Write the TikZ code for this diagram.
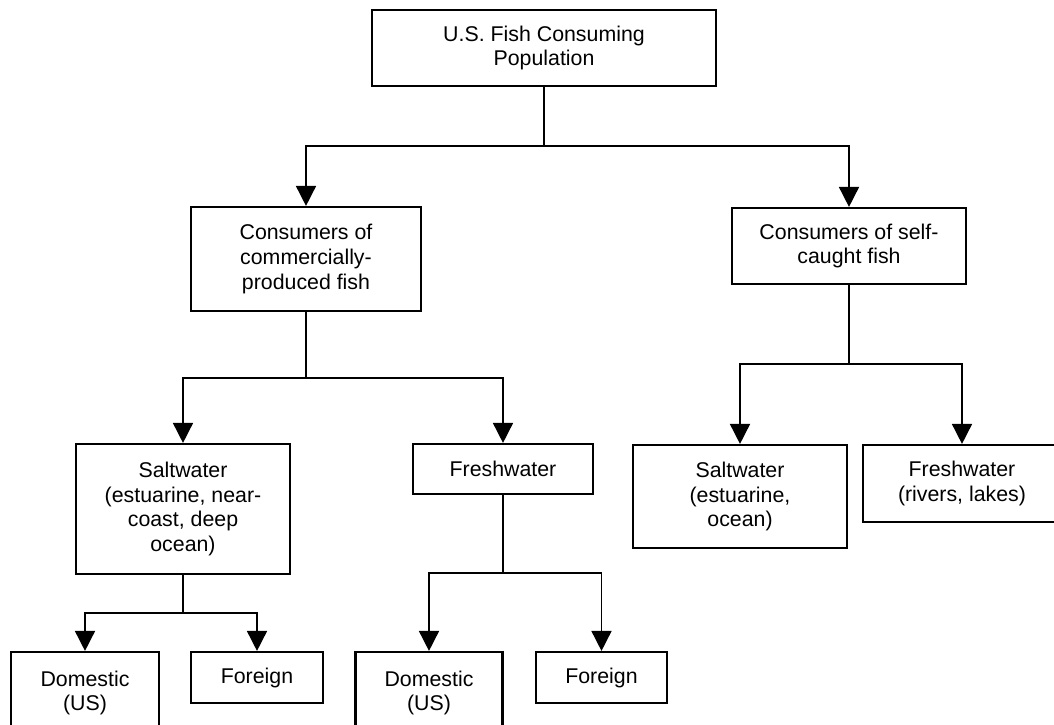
\documentclass[tikz,border=0pt]{standalone}
\usepackage{fontspec}
\setmainfont{Liberation Sans}
\usepackage{tikz}
\usetikzlibrary{arrows.meta}

\begin{document}
\begin{tikzpicture}[x=0.75pt, y=-0.75pt,
        box/.style={rectangle, draw, line width=1.6pt, align=center, inner sep=0pt,
            font=\fontsize{16}{18.5}\selectfont},
        link/.style={line width=1.2pt},
        arr/.style={link, -{Triangle[length=15pt, width=15pt]}}]
        \useasboundingbox (0, 0) rectangle (1054, 725);

        \node[box, minimum width=258pt, minimum height=57pt] (pop) at (544, 48) {U.S. Fish Consuming\\Population};
        \node[box, minimum width=172.5pt, minimum height=78pt] (comm) at (306, 259) {Consumers of\\commercially-\\produced fish};
        \node[box, minimum width=175.5pt, minimum height=57pt] (self) at (849, 246) {Consumers of self-\\caught fish};
        \node[box, minimum width=160.5pt, minimum height=97.5pt] (csalt) at (183, 509) {Saltwater\\(estuarine, near-\\coast, deep\\ocean)};
        \node[box, minimum width=135.4pt, minimum height=37.5pt] (cfresh) at (503, 469) {Freshwater};
        \node[box, minimum width=160.5pt, minimum height=77.25pt] (ssalt) at (740, 496.5) {Saltwater\\(estuarine,\\ocean)};
        \node[box, minimum width=148.5pt, minimum height=57.75pt] (sfresh) at (962, 483.5) {Freshwater\\(rivers, lakes)};
        \node[box, minimum width=110.6pt, minimum height=61.5pt] (sdom) at (85, 693) {Domestic\\(US)};
        \node[box, minimum width=98.6pt, minimum height=38.25pt] (sfor) at (257, 677.5) {Foreign};
        \node[box, minimum width=110.25pt, minimum height=61.5pt] (fdom) at (429, 693) {Domestic\\(US)};
        \node[box, minimum width=98.25pt, minimum height=38.25pt] (ffor) at (601.5, 677.5) {Foreign};

        \coordinate (j0) at (544, 146);
        \coordinate (j1) at (306, 378);
        \coordinate (j2) at (849, 364);
        \coordinate (j3) at (183, 613);
        \coordinate (j4) at (503, 573);

        \draw[link] (pop) to (j0)
            (comm) to (j1)
            (self) to (j2)
            (csalt) to (j3)
            (cfresh) to (j4);
        \draw[arr] (j0) -| (comm.north);
        \draw[arr] (j0) -| (self.north);
        \draw[arr] (j1) -| (csalt.north);
        \draw[arr] (j1) -| (cfresh.north);
        \draw[arr] (j2) -| (ssalt.north);
        \draw[arr] (j2) -| (sfresh.north);
        \draw[arr] (j3) -| (sdom.north);
        \draw[arr] (j3) -| (sfor.north);
        \draw[arr] (j4) -| (fdom.north);
        \draw[arr] (j4) -| (ffor.north);
    \end{tikzpicture}
\end{document}
